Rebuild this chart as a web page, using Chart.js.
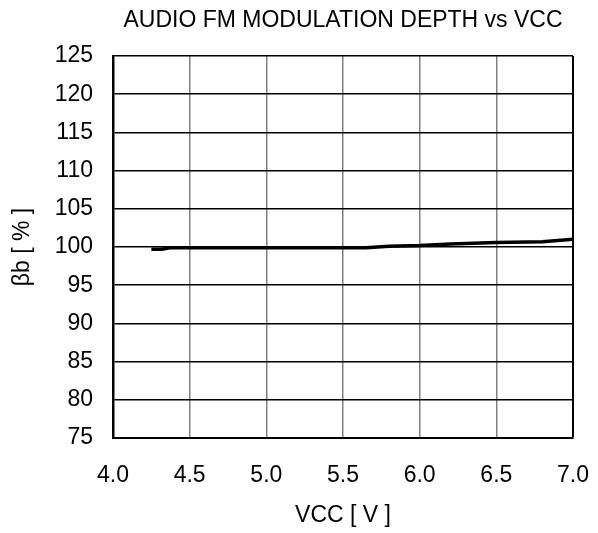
<!DOCTYPE html>
<html>
<head>
<meta charset="utf-8">
<script src="https://cdn.jsdelivr.net/npm/chart.js@4"></script>
<style>
  body { margin: 0; background: #fff; }
  #wrap { width: 598px; height: 533px; }
</style>
</head>
<body>
<div id="wrap"><canvas id="graphCanvas"></canvas></div>
<script>
// VCC [V] vs modulation depth [%]
var vcc = [4.25, 4.32, 4.37, 5.0, 5.65, 5.8, 6.0, 6.2, 6.5, 6.8, 7.0];
var depth = [99.7, 99.7, 99.9, 99.9, 99.9, 100.1, 100.2, 100.4, 100.6, 100.7, 101.0];
var xTicks = [4.0, 4.5, 5.0, 5.5, 6.0, 6.5, 7.0];
var yTicks = [75, 80, 85, 90, 95, 100, 105, 110, 115, 120, 125];

var points = [];
for (var i in vcc) {
    points.push({x: vcc[i], y: depth[i]});
}

var fontFamily = "'Liberation Sans', Arial, sans-serif";

var graphTarget = document.getElementById('graphCanvas');
var chart = new Chart(graphTarget, {
    type: 'line',
    data: {
        datasets: [{
            label: 'βb',
            data: points,
            borderColor: 'black',
            backgroundColor: 'black',
            borderWidth: 3.5,
            pointRadius: 0,
            fill: false,
            tension: 0
        }]
    },
    options: {
        responsive: true,
        maintainAspectRatio: false,
        animation: false,
        layout: {padding: {top: 0, right: 25, bottom: 0, left: 0}},
        plugins: {
            legend: {display: false},
            tooltip: {enabled: false},
            title: {
                display: true,
                fullSize: false,
                text: 'AUDIO FM MODULATION DEPTH vs VCC',
                color: '#000',
                font: {family: fontFamily, size: 23, weight: 'normal'},
                padding: {top: 7, bottom: 21.4},
                align: 'center'
            }
        },
        scales: {
            x: {
                type: 'linear',
                min: 4.0,
                max: 7.0,
                afterBuildTicks: function(axis) {
                    axis.ticks = xTicks.map(function(v) { return {value: v}; });
                },
                ticks: {
                    color: '#000',
                    font: {family: fontFamily, size: 23},
                    padding: 24,
                    maxRotation: 0,
                    callback: function(v) { return v.toFixed(1); }
                },
                grid: {
                    color: function(ctx) {
                        return ctx.index === xTicks.length - 1 ? '#000' : '#808080';
                    },
                    lineWidth: function(ctx) {
                        return ctx.index === xTicks.length - 1 ? 2 : 1.5;
                    },
                    drawTicks: false
                },
                border: {color: '#000', width: 2},
                title: {
                    display: true,
                    text: 'VCC [ V ]',
                    color: '#000',
                    font: {family: fontFamily, size: 23},
                    padding: {top: 0, bottom: 4}
                },
                afterFit: function(axis) {
                    axis.height = 95;
                    // tick padding is pushed into the side margins otherwise
                    axis.paddingLeft = 0;
                    axis.paddingRight = 0;
                }
            },
            y: {
                min: 75,
                max: 125,
                afterBuildTicks: function(axis) {
                    axis.ticks = yTicks.map(function(v) { return {value: v}; });
                },
                ticks: {
                    color: '#000',
                    font: {family: fontFamily, size: 23},
                    padding: 20
                },
                grid: {
                    color: '#000',
                    lineWidth: 1.5,
                    drawTicks: false
                },
                border: {color: '#000', width: 2.5},
                title: {
                    display: true,
                    text: 'βb [ % ]',
                    color: '#000',
                    font: {family: fontFamily, size: 23},
                    padding: {top: 9, bottom: 0}
                },
                afterFit: function(axis) { axis.width = 113; }
            }
        }
    }
});
</script>
</body>
</html>
